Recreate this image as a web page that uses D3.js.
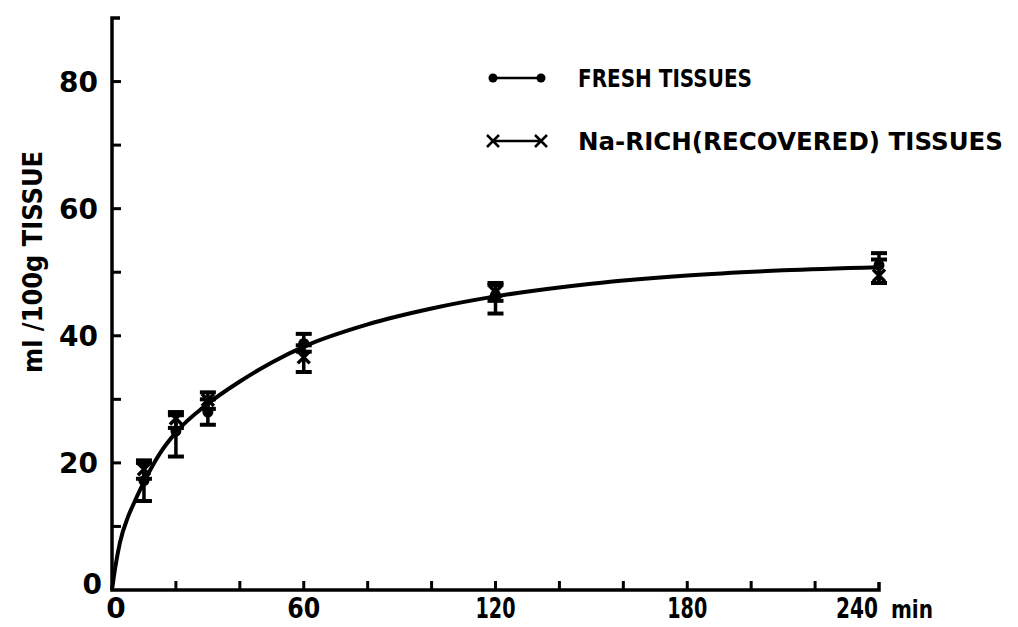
<!DOCTYPE html>
<html>
<head>
<meta charset="utf-8">
<script src="https://cdn.jsdelivr.net/npm/d3@7"></script>
<style>
  body { margin: 0; background: #fff; }
  svg { display: block; }
  text { font-family: "DejaVu Sans", sans-serif; fill: #000; }
</style>
</head>
<body>
<div id="chart-container"></div>
<script>
// time points (min)
const times = [10, 20, 30, 60, 120, 240];

// fresh tissues: mean, low, high
const freshMean = [17.2, 25.0, 28.0, 38.8, 46.4, 51.1];
const freshLow  = [14.0, 21.0, 26.0, 37.5, 43.5, 48.3];
const freshHigh = [20.0, 27.5, 30.0, 40.3, 48.0, 53.0];

// Na-rich (recovered) tissues: mean, low, high
const naMean = [19.0, 27.0, 29.9, 36.6, 46.9, 49.5];
const naLow  = [17.5, 25.5, 28.5, 34.3, 45.5, 48.3];
const naHigh = [20.4, 28.0, 31.1, 38.5, 48.3, 52.0];

// fitted curve
const curveT = [0, 1, 2.5, 5, 7, 10, 15, 20, 30, 40, 50, 60, 80, 100, 120, 150, 180, 210, 240];
const curveV = [0, 3.5, 7.5, 11.5, 13.8, 17, 21.5, 24.8, 29.3, 32.8, 35.8, 38.3, 41.8, 44.3, 46.2, 48.2, 49.5, 50.3, 50.8];

const yTicks = [0, 10, 20, 30, 40, 50, 60, 70, 80, 90];
const yLabels = [0, 20, 40, 60, 80];
const xTicks = [0, 20, 40, 60, 80, 100, 120, 140, 160, 180, 200, 220, 240];
const xLabels = [0, 60, 120, 180];

const svgWidth = 1018, svgHeight = 627;

const svg = d3.select("#chart-container").append("svg")
    .attr("width", svgWidth)
    .attr("height", svgHeight);

const x = d3.scaleLinear().domain([0, 240]).range([112, 879]);
const y = d3.scaleLinear().domain([0, 90]).range([590, 18]);

// axes lines
svg.append("path")
    .attr("d", `M${x(0) + 8},${y(90)}H${x(0)}V${y(0)}H${x(240)}V${y(0) - 8}`)
    .attr("fill", "none")
    .attr("stroke", "#000")
    .attr("stroke-width", 3.5);

// y ticks (inward)
svg.selectAll(".ytick")
    .data(yTicks.slice(1, -1))
    .join("line")
    .attr("x1", x(0)).attr("x2", x(0) + 9)
    .attr("y1", d => y(d)).attr("y2", d => y(d))
    .attr("stroke", "#000").attr("stroke-width", 3);

// x ticks (inward)
svg.selectAll(".xtick")
    .data(xTicks.slice(1, -1))
    .join("line")
    .attr("x1", d => x(d)).attr("x2", d => x(d))
    .attr("y1", y(0)).attr("y2", y(0) - 9)
    .attr("stroke", "#000").attr("stroke-width", 3);

// y labels
svg.selectAll(".ylab")
    .data(yLabels)
    .join("text")
    .attr("x", d => d === 0 ? 102 : 98)
    .attr("y", d => y(d) + 10 - (d === 0 ? 6 : 0))
    .attr("text-anchor", "end")
    .attr("font-size", 28)
    .attr("font-weight", "bold")
    .text(d => d);

// x labels
svg.selectAll(".xlab")
    .data(xLabels)
    .join("text")
    .attr("x", d => x(d) + (d === 0 ? 4 : 0))
    .attr("y", 618)
    .attr("text-anchor", "middle")
    .attr("font-size", 28)
    .attr("font-weight", "bold")
    .attr("textLength", d => d === 0 ? null : (d >= 100 ? 40 : 33))
    .attr("lengthAdjust", "spacingAndGlyphs")
    .text(d => d);

svg.append("text")
    .attr("x", x(240) - 43)
    .attr("y", 618)
    .attr("font-size", 28)
    .attr("font-weight", "bold")
    .attr("textLength", 42)
    .attr("lengthAdjust", "spacingAndGlyphs")
    .text("240");
svg.append("text")
    .attr("x", x(240) + 12)
    .attr("y", 618)
    .attr("font-size", 24)
    .attr("font-weight", "bold")
    .attr("textLength", 42)
    .attr("lengthAdjust", "spacingAndGlyphs")
    .text("min");

// y axis title
svg.append("text")
    .attr("transform", "translate(42, 262) rotate(-90)")
    .attr("text-anchor", "middle")
    .attr("font-size", 26)
    .attr("font-weight", "bold")
    .attr("textLength", 222)
    .attr("lengthAdjust", "spacingAndGlyphs")
    .text("ml /100g TISSUE");

// fitted curve
const curvePts = curveT.map((t, i) => [t, curveV[i]]);
svg.append("path")
    .datum(curvePts)
    .attr("fill", "none")
    .attr("stroke", "#000")
    .attr("stroke-width", 4)
    .attr("d", d3.line().x(d => x(d[0])).y(d => y(d[1])).curve(d3.curveMonotoneX));

// error bars
function errorBars(lo, hi, cls) {
    const g = svg.append("g").attr("class", cls);
    times.forEach((t, i) => {
        const cx = x(t);
        g.append("line")
            .attr("x1", cx).attr("x2", cx)
            .attr("y1", y(lo[i])).attr("y2", y(hi[i]))
            .attr("stroke", "#000").attr("stroke-width", 3.5);
        [lo[i], hi[i]].forEach(v => {
            g.append("line")
                .attr("x1", cx - 8).attr("x2", cx + 8)
                .attr("y1", y(v)).attr("y2", y(v))
                .attr("stroke", "#000").attr("stroke-width", 4);
        });
    });
}
errorBars(freshLow, freshHigh, "fresh-err");
errorBars(naLow, naHigh, "na-err");

// fresh points
svg.selectAll(".fresh")
    .data(times)
    .join("circle")
    .attr("cx", d => x(d))
    .attr("cy", (d, i) => y(freshMean[i]))
    .attr("r", 5.5)
    .attr("fill", "#000");

// na-rich points (x)
const xs = 6;
svg.selectAll(".na")
    .data(times)
    .join("path")
    .attr("d", (d, i) => {
        const cx = x(d), cy = y(naMean[i]);
        return `M${cx - xs},${cy - xs}L${cx + xs},${cy + xs}M${cx - xs},${cy + xs}L${cx + xs},${cy - xs}`;
    })
    .attr("stroke", "#000")
    .attr("stroke-width", 3.5)
    .attr("fill", "none");

// legend
const legend = svg.append("g");
legend.append("line")
    .attr("x1", 493).attr("x2", 541).attr("y1", 78).attr("y2", 78)
    .attr("stroke", "#000").attr("stroke-width", 2.5);
[493, 541].forEach(cx => legend.append("circle")
    .attr("cx", cx).attr("cy", 78).attr("r", 4.5).attr("fill", "#000"));
legend.append("text")
    .attr("x", 578).attr("y", 87)
    .attr("font-size", 25)
    .attr("font-weight", "bold")
    .attr("textLength", 174)
    .attr("lengthAdjust", "spacingAndGlyphs")
    .text("FRESH TISSUES");

legend.append("line")
    .attr("x1", 493).attr("x2", 541).attr("y1", 141).attr("y2", 141)
    .attr("stroke", "#000").attr("stroke-width", 2.5);
[493, 541].forEach(cx => legend.append("path")
    .attr("d", `M${cx - 6},${141 - 6}L${cx + 6},${141 + 6}M${cx - 6},${141 + 6}L${cx + 6},${141 - 6}`)
    .attr("stroke", "#000").attr("stroke-width", 2.5));
legend.append("text")
    .attr("x", 578).attr("y", 150)
    .attr("font-size", 25)
    .attr("font-weight", "bold")
    .attr("textLength", 425)
    .attr("lengthAdjust", "spacingAndGlyphs")
    .text("Na-RICH(RECOVERED) TISSUES");
</script>
</body>
</html>
